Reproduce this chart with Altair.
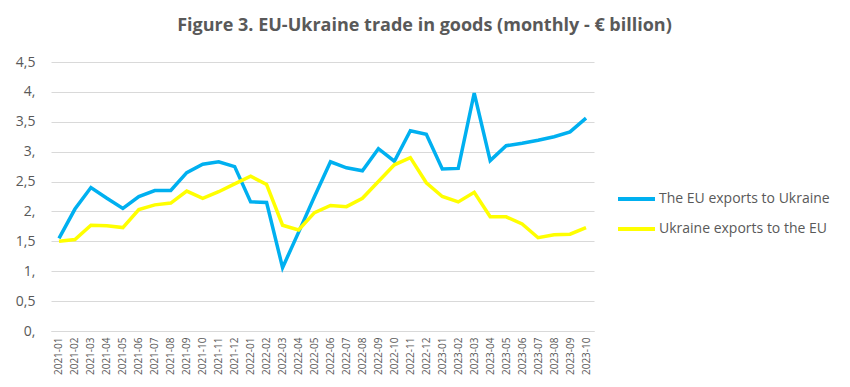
import altair as alt
import pandas as pd

months = ["2021-01","2021-02","2021-03","2021-04","2021-05","2021-06","2021-07","2021-08","2021-09","2021-10","2021-11","2021-12",
          "2022-01","2022-02","2022-03","2022-04","2022-05","2022-06","2022-07","2022-08","2022-09","2022-10","2022-11","2022-12",
          "2023-01","2023-02","2023-03","2023-04","2023-05","2023-06","2023-07","2023-08","2023-09","2023-10"]
eu_to_ua = [1.55, 2.04, 2.40, 2.22, 2.05, 2.25, 2.35, 2.35, 2.65, 2.79, 2.83, 2.75,
            2.16, 2.15, 1.06, 1.65, 2.25, 2.83, 2.73, 2.68, 3.05, 2.84, 3.35, 3.29,
            2.71, 2.72, 3.98, 2.85, 3.10, 3.14, 3.19, 3.25, 3.33, 3.56]
ua_to_eu = [1.50, 1.53, 1.77, 1.76, 1.73, 2.03, 2.11, 2.14, 2.34, 2.22, 2.33, 2.46,
            2.59, 2.45, 1.77, 1.69, 1.98, 2.10, 2.08, 2.22, 2.50, 2.78, 2.90, 2.48,
            2.25, 2.16, 2.32, 1.91, 1.91, 1.79, 1.56, 1.61, 1.62, 1.73]
series = ["The EU exports to Ukraine", "Ukraine exports to the EU"]
colors = ["#00B0F0", "#FFFF00"]

df = pd.concat([
    pd.DataFrame({"month": months, "value": eu_to_ua, "series": series[0]}),
    pd.DataFrame({"month": months, "value": ua_to_eu, "series": series[1]}),
])

FONT = "Open Sans"
GRAY = "#595959"

chart = alt.Chart(df).mark_line(strokeWidth=3.5).encode(
    x=alt.X("month:N", sort=months, title=None,
            axis=alt.Axis(labelAngle=-90, labelFontSize=10, labelColor=GRAY, labelFont=FONT,
                          ticks=False, domainColor="#D9D9D9", labelPadding=6)),
    y=alt.Y("value:Q", title=None, scale=alt.Scale(domain=[0, 4.5], nice=False),
            axis=alt.Axis(values=[0, 0.5, 1, 1.5, 2, 2.5, 3, 3.5, 4, 4.5],
                          labelExpr="datum.value % 1 == 0 ? toString(datum.value) + ',' : replace(format(datum.value, '.1f'), '.', ',')",
                          labelFontSize=14, labelColor=GRAY, labelFont=FONT, ticks=False, domain=False,
                          gridColor="#D9D9D9", gridWidth=1, labelPadding=16)),
    color=alt.Color("series:N", scale=alt.Scale(domain=series, range=colors), title=None,
                    legend=alt.Legend(orient="none", legendX=565, legendY=129, symbolType="stroke",
                                      symbolSize=1369, symbolStrokeWidth=4, labelFontSize=14,
                                      labelColor=GRAY, labelFont=FONT, clipHeight=16, rowPadding=14,
                                      labelOffset=2, labelLimit=0)),
).properties(
    width=543, height=269,
    title=alt.TitleParams("Figure 3. EU-Ukraine trade in goods (monthly - € billion)",
                          fontSize=18, font=FONT, fontWeight="bold", color=GRAY,
                          anchor="middle", dx=102, offset=20),
    padding={"left": 43, "top": 54, "right": 240, "bottom": 50},
    autosize=alt.AutoSizeParams(type="none"),
).configure_view(stroke=None)

chart.save("out.html", embed_options={"renderer": "svg", "actions": False})
